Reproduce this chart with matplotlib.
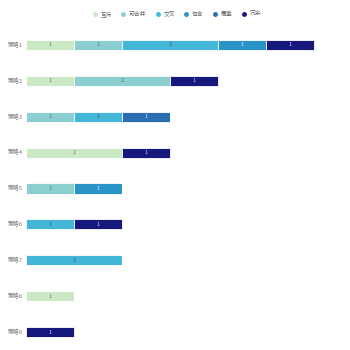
import matplotlib
matplotlib.use("Agg")
import matplotlib.pyplot as plt
from matplotlib.lines import Line2D
import numpy as np

plt.rcParams['font.family'] = ['Noto Sans CJK SC', 'DejaVu Sans']

categories = ["策略1", "策略2", "策略3", "策略4", "策略5", "策略6", "策略7", "策略8", "策略9"]
series_names = ["互斥", "可合并", "交叉", "包含", "覆盖", "冗余"]
series_values = {
    "互斥":   [1, 1, 0, 2, 0, 0, 0, 1, 0],
    "可合并": [1, 2, 1, 0, 1, 0, 0, 0, 0],
    "交叉":   [2, 0, 1, 0, 0, 1, 2, 0, 0],
    "包含":   [1, 0, 0, 0, 1, 0, 0, 0, 0],
    "覆盖":   [0, 0, 1, 0, 0, 0, 0, 0, 0],
    "冗余":   [1, 1, 0, 1, 0, 1, 0, 0, 1],
}
colors = ["#cce9c6", "#8ccfd0", "#44b7d9", "#2b94c6", "#2b6db3", "#17187e"]
text_colors = ["#777777", "#666666", "#555555", "#cde6f2", "#dde6f2", "#c8c8e8"]

fig = plt.figure(figsize=(3.5, 3.5), dpi=100)
ax = fig.add_axes([26/350, 0.0, (338-26)/350, 1 - 27/350])

y = np.arange(len(categories))
left = np.zeros(len(categories))
for name, c, tc in zip(series_names, colors, text_colors):
    vals = np.array(series_values[name], dtype=float)
    ax.barh(y, vals, left=left, height=0.28, color=c, edgecolor="white", linewidth=0.6)
    for yi, (l, v) in enumerate(zip(left, vals)):
        if v > 0:
            ax.text(l + v / 2, yi, f"{int(v)}", ha="center", va="center", fontsize=4.2, color=tc)
    left += vals

ax.set_ylim(len(categories) - 0.5, -0.5)
ax.set_xlim(0, 6.5)
ax.set_yticks(y)
ax.set_yticklabels(categories, fontsize=4.2, color="#777777", va="center")
ax.tick_params(axis="y", length=0, pad=2.5)
ax.set_xticks([])
for s in ax.spines.values():
    s.set_visible(False)

handles = [Line2D([0], [0], marker="o", linestyle="", markersize=2.5, markerfacecolor=c, markeredgecolor=c)
           for c in colors]
fig.legend(handles, series_names, loc="center", bbox_to_anchor=(0.5, 1 - 14/350), ncol=6,
           frameon=False, fontsize=4.2, handletextpad=0.0, columnspacing=0.9, labelcolor="#666666")

fig.savefig("out.png", dpi=100)
